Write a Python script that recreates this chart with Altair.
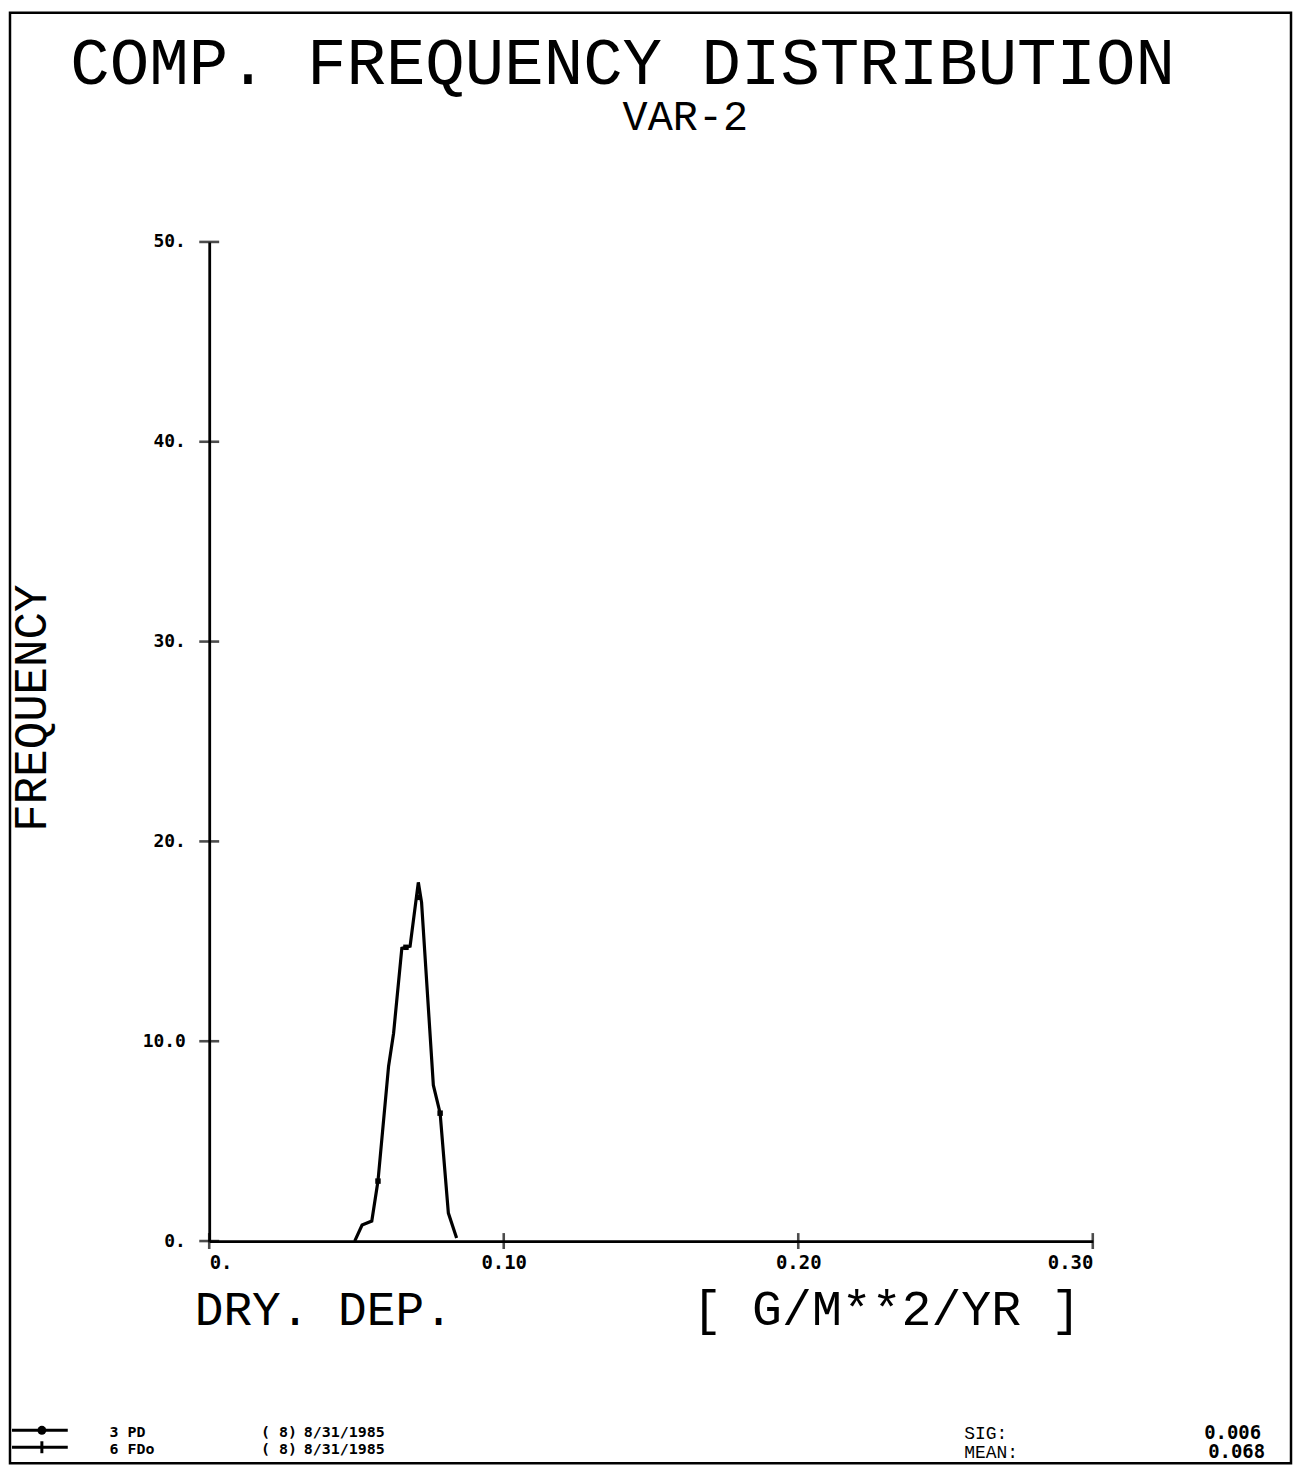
import altair as alt
import pandas as pd

# ---- data ----
dep_x = [0.0494, 0.0519, 0.0552, 0.0573, 0.0609, 0.0626, 0.0654, 0.0682, 0.0710, 0.0721, 0.0761, 0.0784, 0.0812, 0.0840]
freq_y = [0.0, 0.8, 1.0, 3.0, 8.75, 10.4, 14.65, 14.75, 17.95, 16.95, 7.8, 6.4, 1.4, 0.15]
marker_x = [0.0573, 0.0668, 0.0710, 0.0784]
marker_y = [3.0, 14.7, 17.2, 6.4]
y_ticks = [0, 10, 20, 30, 40, 50]
x_ticks = [0.0, 0.10, 0.20, 0.30]

title1 = "COMP.  FREQUENCY DISTRIBUTION"
title2 = "VAR-2"
y_title = "FREQUENCY"
x_title_left = "DRY. DEP."
x_title_right = "[  G/M**2/YR  ]"
sig_label, sig_value = "SIG:", "0.006"
mean_label, mean_value = "MEAN:", "0.068"
legend_names = ["3 PD", "6 FDo"]
legend_runs = ["( 8)", "( 8)"]
legend_dates = ["8/31/1985", "8/31/1985"]

# ---- layout (page pixels) ----
OX, OY = 210, 240          # plot origin on the page
W, H = 887, 1003
MONO = "Liberation Mono"
SANS = "DejaVu Sans Mono"

df = pd.DataFrame({"x": dep_x, "y": freq_y})
mk = pd.DataFrame({"x": marker_x, "y": marker_y})
yt = pd.DataFrame({"x": [0.0] * len(y_ticks), "y": y_ticks})
xt = pd.DataFrame({"x": x_ticks, "y": [0.0] * len(x_ticks)})

xscale = alt.Scale(domain=[0, 0.30], nice=False, zero=False)
yscale = alt.Scale(domain=[0, 50], nice=False)

ax_x = alt.Axis(values=x_ticks, ticks=False, grid=False, domainColor="black",
                domainWidth=2.8, labelFont=SANS, labelFontWeight="bold",
                labelFontSize=19, labelColor="black", labelPadding=13,
                labelExpr="datum.value == 0 ? '0.' : format(datum.value, '.2f')",
                title=None)
ax_y = alt.Axis(values=y_ticks, ticks=False, grid=False, domainColor="black",
                domainWidth=2.8, labelFont=SANS, labelFontWeight="bold",
                labelFontSize=18, labelColor="black", labelPadding=24,
                labelExpr="datum.value == 10 ? '10.0' : datum.value + '.'",
                title=None)

X = alt.X("x:Q", scale=xscale, axis=ax_x)
Y = alt.Y("y:Q", scale=yscale, axis=ax_y)

line = alt.Chart(df).mark_line(color="black", strokeWidth=3.2).encode(x=X, y=Y)

markers = alt.Chart(mk).mark_point(shape="square", size=30, color="black", filled=True,
                                   opacity=1).encode(x=X, y=Y)

ytick = alt.Chart(yt).mark_tick(orient="horizontal", size=20, thickness=2.6, color="black").encode(
    y=Y, x=X)
xtick = alt.Chart(xt).mark_tick(orient="vertical", size=16, thickness=2.6, color="black").encode(
    x=X, y=Y)


def txt(s, px, py, size, align="left", angle=0, weight="normal", font=MONO):
    return alt.Chart(pd.DataFrame({"t": [s]})).mark_text(
        align=align, baseline="alphabetic", fontSize=size, font=font,
        fontWeight=weight, angle=angle, color="black").encode(
        x=alt.value(px - OX), y=alt.value(py - OY), text="t:N")


texts = [
    txt(title1, 625, 81, 66, align="center"),
    txt(title2, 688, 128, 42, align="center"),
    txt(y_title, 46, 708, 46, align="center", angle=270),
    txt(x_title_left, 325, 1327, 48, align="center"),
    txt(x_title_right, 890, 1327, 50, align="center"),
    txt(sig_label, 968, 1442, 18),
    txt(mean_label, 968, 1461, 18),
    txt(sig_value, 1266, 1442, 19, align="right", weight="bold", font=SANS),
    txt(mean_value, 1270, 1461, 19, align="right", weight="bold", font=SANS),
    txt(legend_names[0], 110, 1440, 15, weight="bold", font=SANS),
    txt(legend_names[1], 110, 1457, 15, weight="bold", font=SANS),
    txt(legend_runs[0], 262, 1440, 15, weight="bold", font=SANS),
    txt(legend_runs[1], 262, 1457, 15, weight="bold", font=SANS),
    txt(legend_dates[0], 305, 1440, 15, weight="bold", font=SANS),
    txt(legend_dates[1], 305, 1457, 15, weight="bold", font=SANS),
]

one = pd.DataFrame({"k": [0]})
leg1 = alt.Chart(one).mark_rule(color="black", strokeWidth=3).encode(
    x=alt.value(12 - OX), x2=alt.value(68 - OX), y=alt.value(1433 - OY))
leg1p = alt.Chart(one).mark_point(shape="circle", size=80, color="black", filled=True, opacity=1).encode(
    x=alt.value(42 - OX), y=alt.value(1433 - OY))
leg2 = alt.Chart(one).mark_rule(color="black", strokeWidth=3).encode(
    x=alt.value(12 - OX), x2=alt.value(68 - OX), y=alt.value(1450 - OY))
leg2p = alt.Chart(one).mark_rule(color="black", strokeWidth=3).encode(
    x=alt.value(42 - OX), y=alt.value(1444 - OY), y2=alt.value(1456 - OY))

frame = alt.Chart(one).mark_rect(fill=None, stroke="black", strokeWidth=2.5).encode(
    x=alt.value(10 - OX), x2=alt.value(1296 - OX), y=alt.value(10 - OY), y2=alt.value(1466 - OY))

chart = alt.layer(line, markers, ytick, xtick, frame, leg1, leg1p, leg2, leg2p, *texts).properties(
    width=W, height=H,
    padding={"left": OX - 8, "top": OY - 8, "right": 1290 - (OX - 8) - W, "bottom": 1462 - (OY - 8) - H},
    autosize=alt.AutoSizeParams(type="none"),
    background="white",
).configure_view(stroke=None)

chart.save("out.html", embed_options={"renderer": "svg", "actions": False})
